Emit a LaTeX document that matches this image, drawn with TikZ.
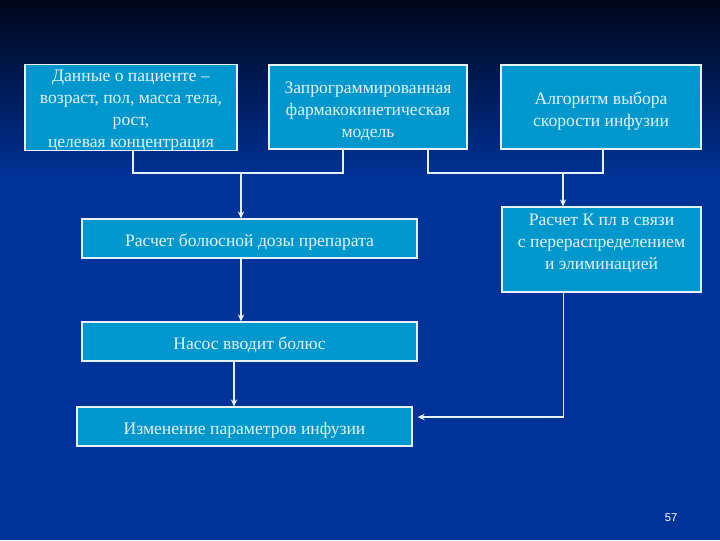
\documentclass[tikz,border=0pt]{standalone}
\usepackage{fontspec}
\setmainfont{Liberation Serif}
\newfontfamily\numfont{Liberation Sans}
\usepackage{xcolor}
\definecolor{slidenavy}{RGB}{0,6,26}
\definecolor{slideblue}{RGB}{0,51,153}
\definecolor{boxcyan}{RGB}{0,152,204}
\definecolor{lineice}{RGB}{228,242,255}
\usepackage{tikz}
\usetikzlibrary{positioning,calc,arrows.meta}
\newcommand{\lift}[1]{\rule{0pt}{#1}}
\tikzset{
  stage/.style={draw=lineice,line width=0.8pt,fill=boxcyan,text=lineice,align=center,
    font=\fontsize{12.5}{15.5}\selectfont,inner sep=0pt},
  padtop/.style={execute at begin node={\rule{0pt}{#1}}},
  padbottom/.style={execute at end node={\rule[-#1]{0pt}{0pt}}},
  flow/.style={draw=lineice,line width=1pt},
  flowarrow/.style={flow,-{Stealth[length=5pt,width=4.5pt]}}
}

\begin{document}
\begin{tikzpicture}[x=0.025cm,y=-0.025cm]
  % фон слайда
  \fill[slideblue] (0,0) rectangle (720,540);
  \shade[top color=slidenavy,bottom color=slideblue] (0,0) rectangle (720,180);

  % верхний ряд
  \node[stage,minimum width=5.3cm,minimum height=2.125cm] (data) at (131,107.5)
    {\lift{12.5pt}Данные о пациенте –\\возраст, пол, масса тела,\\рост,\\целевая концентрация};
  \node[stage,padbottom=3pt,minimum width=4.95cm,minimum height=2.1cm] (model) at (368,107)
    {\lift{15.5pt}Запрограммированная\\фармакокинетическая\\модель};
  \node[stage,padbottom=3pt,minimum width=5cm,minimum height=2.1cm] (algo) at (601,107)
    {\lift{15.5pt}Алгоритм выбора\\скорости инфузии};

  % расчеты
  \node[stage,padtop=14pt,padbottom=3pt,minimum width=8.375cm,minimum height=0.975cm] (bolus) at (249.5,238.5)
    {Расчет болюсной дозы препарата};
  \node[stage,padbottom=11pt,minimum width=4.975cm,minimum height=2.125cm] (kpl) at (601.5,249.5)
    {Расчет К пл в связи\\с перераспределением\\и элиминацией};

  % насос и инфузия
  \node[stage,padtop=14pt,padbottom=3pt,minimum width=8.375cm,minimum height=0.975cm] (pump) at (249.5,341.5)
    {Насос вводит болюс};
  \node[stage,padtop=14pt,padbottom=3pt,minimum width=8.375cm,minimum height=0.975cm] (change) at (244.5,426.5)
    {Изменение параметров инфузии};

  \coordinate (j1) at (241,173);
  \coordinate (j2) at (563,173);
  \draw[flow] ($(data.south)+(2,0)$) |- (j1) -| ($(model.south)+(-25,0)$);
  \draw[flow] ($(model.south)+(60,0)$) |- (j2) -| ($(algo.south)+(2,0)$);
  \draw[flowarrow] (j1) -- (j1 |- bolus.north);
  \draw[flowarrow] (j2) -- (j2 |- kpl.north);
  \draw[flowarrow] (bolus.south -| j1) -- (pump.north -| j1);
  \draw[flowarrow] ($(pump.south)+(-15.5,0)$) -- ($(change.north)+(-10.5,0)$);
  \draw[flowarrow] ($(kpl.south)+(-38,0)$) |- ($(change.east)+(5,-9.5)$);

  \node[text=white,font=\numfont\fontsize{8}{9}\selectfont] (pagenum) at (671,518) {57};
\end{tikzpicture}
\end{document}
